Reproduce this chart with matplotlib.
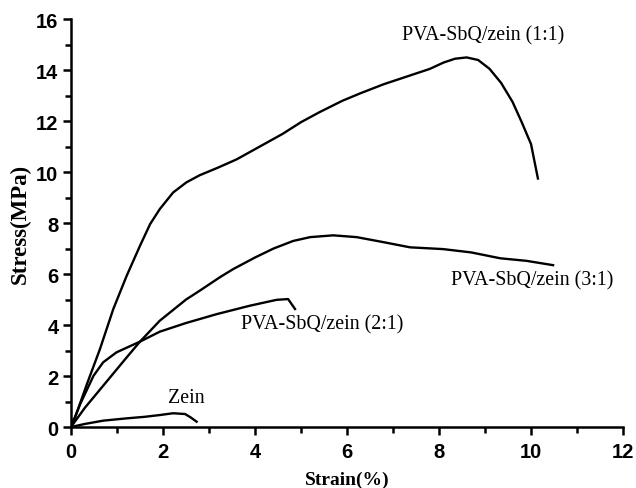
import matplotlib
matplotlib.use('Agg')
import matplotlib.pyplot as plt
from matplotlib.ticker import MultipleLocator

# Stress-strain curves
strain_11 = [0.0, 0.09, 0.35, 0.63, 0.92, 1.21, 1.5, 1.72, 1.93, 2.22, 2.51, 2.8, 3.2, 3.6, 4.1, 4.6,
             5.0, 5.4, 5.9, 6.3, 6.8, 7.3, 7.8, 8.1, 8.35, 8.6, 8.85, 9.1, 9.35, 9.6, 9.8, 10.0, 10.15]
stress_11 = [0.15, 0.38, 1.7, 3.06, 4.63, 5.93, 7.11, 7.96, 8.55, 9.2, 9.6, 9.88, 10.18, 10.5, 11.0, 11.5,
             11.96, 12.35, 12.8, 13.1, 13.45, 13.75, 14.05, 14.3, 14.45, 14.5, 14.4, 14.05, 13.5, 12.75, 11.95, 11.1, 9.75]

strain_31 = [0.0, 0.3, 0.7, 1.21, 1.5, 1.93, 2.5, 2.8, 3.24, 3.53, 4.0, 4.4, 4.83, 5.2, 5.7, 6.21, 6.8, 7.37,
             8.09, 8.7, 9.33, 9.9, 10.48]
stress_31 = [0.0, 0.75, 1.62, 2.73, 3.35, 4.17, 5.0, 5.35, 5.88, 6.2, 6.65, 7.0, 7.3, 7.45, 7.52, 7.45, 7.25, 7.05,
             6.98, 6.85, 6.62, 6.52, 6.35]

strain_21 = [0.0, 0.2, 0.49, 0.7, 0.99, 1.5, 1.93, 2.5, 3.17, 3.89, 4.47, 4.72, 4.87]
stress_21 = [0.0, 0.9, 2.01, 2.54, 2.93, 3.35, 3.74, 4.08, 4.43, 4.76, 4.99, 5.02, 4.63]

strain_zein = [0.0, 0.3, 0.7, 1.21, 1.6, 1.93, 2.22, 2.48, 2.6, 2.73]
stress_zein = [0.0, 0.12, 0.25, 0.34, 0.4, 0.47, 0.54, 0.51, 0.38, 0.21]

label_11 = 'PVA-SbQ/zein (1:1)'
label_31 = 'PVA-SbQ/zein (3:1)'
label_21 = 'PVA-SbQ/zein (2:1)'
label_zein = 'Zein'

fig = plt.figure(figsize=(6.36, 4.89), dpi=100)
ax = fig.add_axes([0.1116, 0.1247, 0.868, 0.834])

for xs, ys in [(strain_11, stress_11), (strain_31, stress_31),
               (strain_21, stress_21), (strain_zein, stress_zein)]:
    ax.plot(xs, ys, color='black', linewidth=1.7, solid_joinstyle='round')

serif = 'Liberation Serif'
ax.text(8.96, 15.37, label_11, ha='center', va='center', fontsize=14.4, family=serif)
ax.text(10.03, 5.77, label_31, ha='center', va='center', fontsize=14.4, family=serif)
ax.text(5.47, 4.05, label_21, ha='center', va='center', fontsize=14.4, family=serif)
ax.text(2.5, 1.15, label_zein, ha='center', va='center', fontsize=14.4, family=serif)

ax.set_xlim(0, 12)
ax.set_ylim(0, 16)
ax.xaxis.set_major_locator(MultipleLocator(2))
ax.xaxis.set_minor_locator(MultipleLocator(1))
ax.yaxis.set_major_locator(MultipleLocator(2))
ax.yaxis.set_minor_locator(MultipleLocator(1))

ax.spines['top'].set_visible(False)
ax.spines['right'].set_visible(False)
for s in ['left', 'bottom']:
    ax.spines[s].set_linewidth(1.8)
ax.tick_params(which='major', direction='out', length=6, width=1.8, pad=3)
ax.tick_params(axis='x', which='major', pad=5)
ax.tick_params(which='minor', direction='out', length=4, width=1.8)

for lab in ax.get_xticklabels() + ax.get_yticklabels():
    lab.set_fontsize(14.5)
    lab.set_fontweight('bold')
    lab.set_family('Liberation Sans')

ax.set_xlabel('Strain(%)', fontsize=14, fontweight='bold', family=serif, labelpad=7)
ax.set_ylabel('Stress(MPa)', fontsize=16.5, fontweight='bold', family=serif, labelpad=4)

plt.savefig('out.png', dpi=100)
